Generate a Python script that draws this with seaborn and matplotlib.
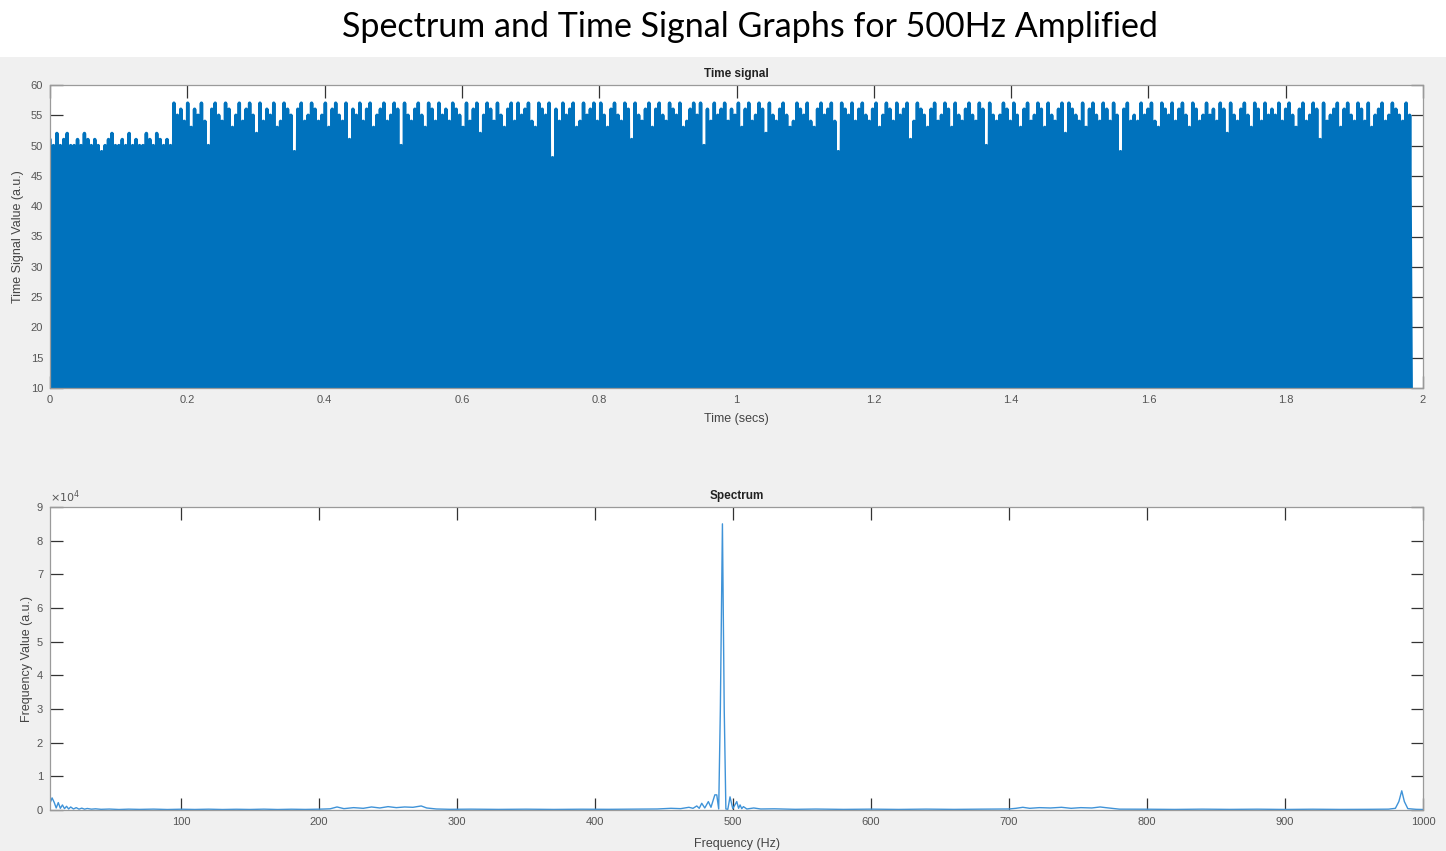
import numpy as np
import pandas as pd
import matplotlib
matplotlib.use("Agg")
import matplotlib.pyplot as plt
import seaborn as sns
from matplotlib.patches import Rectangle

# ---------------- data ----------------
fig_title = "Spectrum and Time Signal Graphs for 500Hz Amplified"

# time signal: sample peaks (a.u.), first segment (0 .. 0.183 s) and rest
sig_t_end = 1.983
sig_trough = 5
peaks_low = [51, 50, 52, 50, 51, 52, 50, 50, 51, 50, 52, 51, 50, 51, 50, 49, 50, 51,
             52, 50, 50, 51, 50, 52, 50, 51, 50, 50, 52, 51, 50, 52, 51, 50, 51, 50]
peaks_high = [
    57, 55, 56, 54, 57, 53, 56, 55, 57, 54, 50, 56, 57, 55, 54, 57, 56, 53, 55, 57,
    54, 56, 57, 55, 52, 57, 54, 56, 55, 57, 53, 54, 57, 56, 55, 49, 56, 57, 54, 55,
    57, 56, 54, 55, 57, 53, 56, 57, 55, 54, 57, 51, 56, 55, 57, 54, 56, 57, 53, 55,
    56, 57, 54, 55, 57, 56, 50, 57, 55, 54, 56, 57, 55, 53, 57, 56, 54, 57, 55, 56,
    54, 57, 56, 55, 53, 57, 54, 56, 57, 52, 55, 57, 56, 54, 57, 55, 53, 56, 57, 54,
    57, 55, 56, 57, 54, 53, 57, 56, 55, 57, 48, 56, 54, 57, 55, 56, 57, 53, 54, 57,
    55, 56, 57, 54, 57, 55, 53, 56, 57, 55, 54, 57, 56, 51, 57, 55, 54, 56, 57, 53,
    56, 57, 55, 54, 57, 56, 55, 57, 53, 54, 56, 57, 55, 57, 50, 56, 54, 57, 55, 56,
    57, 54, 56, 55, 57, 53, 56, 57, 54, 55, 57, 56, 52, 57, 55, 54, 56, 57, 55, 53,
    54, 57, 56, 55, 57, 54, 53, 56, 57, 55, 56, 57, 54, 49, 57, 56, 55, 57, 54, 56,
    57, 55, 54, 56, 57, 53, 55, 57, 56, 54, 57, 55, 56, 57, 51, 54, 57, 56, 55, 53,
    56, 57, 54, 55, 57, 56, 53, 57, 55, 54, 56, 57, 55, 54, 57, 56, 50, 57, 55, 54,
    55, 57, 56, 54, 57, 55, 53, 56, 57, 54, 55, 57, 56, 53, 57, 55, 54, 56, 57, 52,
    57, 56, 55, 54, 57, 53, 56, 57, 55, 54, 57, 56, 54, 57, 55, 49, 56, 57, 54, 55,
    54, 57, 55, 56, 57, 54, 53, 57, 56, 55, 57, 54, 56, 57, 55, 53, 57, 56, 54, 55,
    57, 55, 56, 54, 57, 56, 52, 57, 55, 54, 56, 57, 55, 53, 57, 56, 54, 57, 55, 56,
    55, 57, 54, 56, 57, 55, 53, 56, 57, 54, 55, 57, 56, 51, 57, 54, 55, 56, 57, 53,
    56, 57, 55, 54, 57, 56, 54, 57, 53, 55, 56, 57, 54, 55, 57, 56, 55, 54, 57, 55,
]

# spectrum (Hz, a.u.)
spec_freq = [5, 6.5, 8, 9.5, 11, 12.5, 14, 15.5, 17, 18.5, 20, 22, 24, 26, 28, 30, 32, 35,
             38, 42, 48, 55, 62, 70, 80, 90, 100, 110, 120, 130, 140, 150, 160, 170, 180,
             190, 200, 208, 213, 218, 225, 232, 238, 244, 250, 256, 262, 268, 274, 278,
             285, 295, 310, 330, 350, 370, 390, 410, 430, 445, 455, 462, 468, 471, 473.7,
             475.5, 477.3, 479.5, 482.1, 484, 486.8, 488.2, 489.6, 490.8, 492.3, 493.6,
             494.8, 496.2, 497.8, 499.8, 502.7, 504, 505.1, 506.3, 507.5, 510, 515, 520,
             530, 545, 560, 580, 600, 620, 640, 660, 680, 700, 705, 710, 715, 722, 730,
             738, 745, 752, 760, 766, 770, 780, 800, 820, 840, 860, 880, 900, 920, 940,
             960, 975, 980, 982.5, 984.6, 986.5, 989, 995, 1000]
spec_val = [2000, 3600, 2300, 600, 2200, 500, 1500, 400, 1100, 300, 900, 300, 700, 250,
            550, 250, 450, 250, 350, 200, 280, 150, 250, 180, 260, 150, 230, 160, 240,
            150, 220, 160, 250, 150, 230, 170, 240, 350, 900, 400, 700, 500, 900, 600,
            1000, 700, 900, 800, 1200, 600, 300, 200, 250, 180, 240, 170, 230, 200, 260,
            300, 500, 400, 800, 500, 1200, 500, 2000, 600, 2500, 800, 4500, 4500, 300,
            30000, 85000, 30000, 300, 200, 3900, 400, 2500, 500, 1500, 400, 1000, 300,
            600, 300, 350, 200, 280, 180, 250, 170, 260, 180, 250, 300, 500, 800, 500,
            700, 600, 800, 500, 700, 600, 900, 700, 250, 230, 170, 250, 180, 240, 160,
            230, 170, 200, 250, 500, 2500, 5700, 2500, 400, 200, 150]

time_ticks = [0, 0.2, 0.4, 0.6, 0.8, 1, 1.2, 1.4, 1.6, 1.8, 2]
time_ticklabels = ["0", "0.2", "0.4", "0.6", "0.8", "1", "1.2", "1.4", "1.6", "1.8", "2"]
sig_yticks = [10, 15, 20, 25, 30, 35, 40, 45, 50, 55, 60]
freq_ticks = [100, 200, 300, 400, 500, 600, 700, 800, 900, 1000]
spec_yticks = [0, 10000, 20000, 30000, 40000, 50000, 60000, 70000, 80000, 90000]
spec_yticklabels = ["0", "1", "2", "3", "4", "5", "6", "7", "8", "9"]

# ---------------- build frames ----------------
peaks = peaks_low + peaks_high
n = len(peaks)
t = np.linspace(0, sig_t_end, 2 * n)
vals = np.empty(2 * n)
vals[0::2] = peaks
vals[1::2] = sig_trough
sig_df = pd.DataFrame({"t": t, "v": vals})
spec_df = pd.DataFrame({"f": spec_freq, "v": spec_val})

# ---------------- style ----------------
sns.set_theme(style="white")
plt.rcParams["font.family"] = ["Liberation Sans", "DejaVu Sans"]

W, H = 1446, 851
fig = plt.figure(figsize=(W / 100, H / 100), dpi=100)
fig.patch.set_facecolor("#f0f0f0")
fig.patches.append(Rectangle((0, 1 - 57 / H), 1, 57 / H, transform=fig.transFigure,
                             facecolor="white", edgecolor="none", zorder=0))

fig.text(750 / W, 1 - 27 / H, fig_title, ha="center", va="center",
         fontsize=24.5, family=["Lato", "DejaVu Sans"], color="black")

def ax_rect(l, t_, r, b):
    return [l / W, 1 - b / H, (r - l) / W, (b - t_) / H]

ax1 = fig.add_axes(ax_rect(50, 85, 1423, 388))
ax2 = fig.add_axes(ax_rect(50, 507, 1423, 810))

tick_col = "#555555"
spine_col = "#9a9a9a"
for ax in (ax1, ax2):
    ax.set_facecolor("white")
    for s in ax.spines.values():
        s.set_color(spine_col)
        s.set_linewidth(0.9)
    ax.tick_params(direction="in", length=9, width=0.9, color="#333333",
                   top=True, right=True, bottom=True, left=True,
                   labelsize=8, labelcolor=tick_col, pad=5)

sns.lineplot(data=sig_df, x="t", y="v", ax=ax1, color="#0072BD", linewidth=2.5,
             estimator=None, sort=False)
ax1.set_xlim(0, 2)
ax1.set_ylim(10, 60)
ax1.set_xticks(time_ticks)
ax1.set_xticklabels(time_ticklabels)
ax1.set_yticks(sig_yticks)
ax1.set_title("Time signal", fontsize=8.5, fontweight="bold", color="#222222", pad=6)
ax1.set_xlabel("Time (secs)", fontsize=9, color="#444444", labelpad=6)
ax1.set_ylabel("Time Signal Value (a.u.)", fontsize=9, color="#444444", labelpad=5)

sns.lineplot(data=spec_df, x="f", y="v", ax=ax2, color="#3f93d8", linewidth=1.0,
             estimator=None, sort=False)
ax2.set_xlim(5, 1000)
ax2.set_ylim(0, 90000)
ax2.set_xticks(freq_ticks)
ax2.set_yticks(spec_yticks)
ax2.set_yticklabels(spec_yticklabels)
ax2.set_title("Spectrum", fontsize=8.5, fontweight="bold", color="#222222", pad=6)
ax2.set_xlabel("Frequency (Hz)", fontsize=9, color="#444444", labelpad=8)
ax2.set_ylabel("Frequency Value (a.u.)", fontsize=9, color="#444444", labelpad=3)
ax2.text(0.0, 1.005, r"$\times10^{4}$", transform=ax2.transAxes, fontsize=8,
         color=tick_col, ha="left", va="bottom")

fig.savefig("out.png", dpi=100, facecolor=fig.get_facecolor())
